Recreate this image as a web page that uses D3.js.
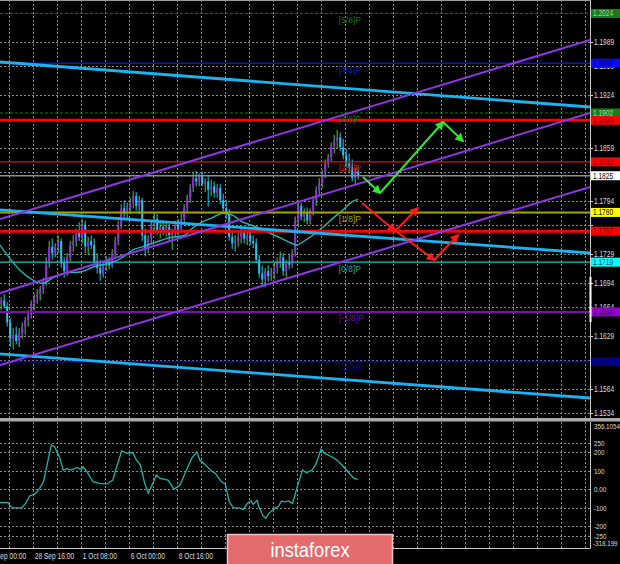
<!DOCTYPE html>
<html><head><meta charset="utf-8">
<script src="https://cdn.jsdelivr.net/npm/d3@7"></script>
<style>html,body{margin:0;padding:0;background:#000;}svg{display:block;font-family:"Liberation Sans",Arial,sans-serif;}</style>
</head><body>
<svg id="c" width="620" height="564"></svg>
<script>
// ---------------- DATA ----------------
const firstBar = 5; // H4 bar index (0 = 24 Sep 00:00)
const open  = [1.1668,1.1672,1.1665,1.1645,1.1625,1.1630,1.1622,1.1632,1.1640,1.1648,1.1655,1.1668,1.1675,1.1680,1.1686,1.1695,1.1720,1.1738,1.1730,1.1738,1.1745,1.1718,1.1708,1.1725,1.1740,1.1745,1.1755,1.1750,1.1765,1.1738,1.1745,1.1740,1.1720,1.1712,1.1705,1.1715,1.1720,1.1715,1.1730,1.1745,1.1765,1.1785,1.1778,1.1785,1.1792,1.1800,1.1788,1.1795,1.1752,1.1735,1.1748,1.1765,1.1772,1.1758,1.1762,1.1758,1.1762,1.1752,1.1755,1.1765,1.1760,1.1772,1.1786,1.1798,1.1810,1.1822,1.1818,1.1825,1.1815,1.1818,1.1808,1.1812,1.1804,1.1810,1.1795,1.1785,1.1778,1.1750,1.1742,1.1745,1.1750,1.1755,1.1748,1.1752,1.1745,1.1742,1.1722,1.1705,1.1698,1.1708,1.1702,1.1706,1.1712,1.1720,1.1725,1.1708,1.1718,1.1716,1.1730,1.1770,1.1788,1.1775,1.1780,1.1770,1.1782,1.1795,1.1808,1.1816,1.1828,1.1840,1.1848,1.1862,1.1868,1.1872,1.1860,1.1850,1.1840,1.1835,1.1822,1.1830];
const high  = [1.1676,1.1680,1.1670,1.1650,1.1638,1.1640,1.1638,1.1645,1.1652,1.1660,1.1672,1.1680,1.1686,1.1690,1.1700,1.1725,1.1745,1.1748,1.1742,1.1752,1.1748,1.1725,1.1730,1.1745,1.1752,1.1760,1.1768,1.1772,1.1770,1.1750,1.1752,1.1748,1.1730,1.1722,1.1720,1.1726,1.1725,1.1735,1.1750,1.1770,1.1790,1.1795,1.1792,1.1798,1.1806,1.1805,1.1800,1.1798,1.1760,1.1752,1.1770,1.1780,1.1778,1.1768,1.1770,1.1768,1.1766,1.1760,1.1770,1.1772,1.1778,1.1790,1.1802,1.1815,1.1830,1.1831,1.1828,1.1830,1.1822,1.1825,1.1820,1.1818,1.1815,1.1815,1.1803,1.1795,1.1784,1.1758,1.1752,1.1758,1.1762,1.1760,1.1758,1.1756,1.1752,1.1748,1.1728,1.1715,1.1712,1.1715,1.1712,1.1718,1.1725,1.1732,1.1730,1.1722,1.1728,1.1735,1.1775,1.1795,1.1792,1.1785,1.1786,1.1785,1.1800,1.1812,1.1822,1.1832,1.1845,1.1852,1.1866,1.1875,1.1881,1.1878,1.1870,1.1858,1.1852,1.1845,1.1835,1.1836];
const low   = [1.1660,1.1662,1.1640,1.1615,1.1612,1.1618,1.1615,1.1625,1.1630,1.1640,1.1650,1.1660,1.1668,1.1672,1.1680,1.1690,1.1712,1.1722,1.1725,1.1730,1.1712,1.1700,1.1702,1.1720,1.1732,1.1738,1.1745,1.1742,1.1730,1.1728,1.1735,1.1715,1.1705,1.1696,1.1700,1.1708,1.1710,1.1712,1.1725,1.1740,1.1760,1.1770,1.1772,1.1778,1.1785,1.1782,1.1778,1.1745,1.1726,1.1730,1.1742,1.1755,1.1752,1.1748,1.1752,1.1750,1.1745,1.1734,1.1750,1.1752,1.1756,1.1768,1.1780,1.1792,1.1805,1.1812,1.1812,1.1812,1.1805,1.1787,1.1800,1.1798,1.1798,1.1790,1.1780,1.1772,1.1745,1.1735,1.1732,1.1738,1.1742,1.1742,1.1740,1.1740,1.1736,1.1718,1.1700,1.1690,1.1688,1.1695,1.1696,1.1698,1.1705,1.1712,1.1702,1.1700,1.1710,1.1712,1.1726,1.1762,1.1770,1.1768,1.1765,1.1765,1.1776,1.1788,1.1800,1.1810,1.1822,1.1835,1.1842,1.1852,1.1858,1.1855,1.1845,1.1835,1.1828,1.1818,1.1814,1.1820];
const close = [1.1672,1.1665,1.1645,1.1625,1.1630,1.1622,1.1632,1.1640,1.1648,1.1655,1.1668,1.1675,1.1680,1.1686,1.1695,1.1720,1.1738,1.1730,1.1738,1.1745,1.1718,1.1708,1.1725,1.1740,1.1745,1.1755,1.1750,1.1765,1.1738,1.1745,1.1740,1.1720,1.1712,1.1705,1.1715,1.1720,1.1715,1.1730,1.1745,1.1765,1.1785,1.1778,1.1785,1.1792,1.1800,1.1788,1.1795,1.1752,1.1735,1.1748,1.1765,1.1772,1.1758,1.1762,1.1758,1.1762,1.1752,1.1755,1.1765,1.1760,1.1772,1.1786,1.1798,1.1810,1.1822,1.1818,1.1825,1.1815,1.1818,1.1808,1.1812,1.1804,1.1810,1.1795,1.1785,1.1778,1.1750,1.1742,1.1745,1.1750,1.1755,1.1748,1.1752,1.1745,1.1742,1.1722,1.1705,1.1698,1.1708,1.1702,1.1706,1.1712,1.1720,1.1725,1.1708,1.1718,1.1716,1.1730,1.1770,1.1788,1.1775,1.1780,1.1770,1.1782,1.1795,1.1808,1.1816,1.1828,1.1840,1.1848,1.1862,1.1868,1.1872,1.1860,1.1850,1.1840,1.1835,1.1822,1.1830,1.1825];

const maBar = [4.6,11.3,15.6,18.9,22.3,26.9,31.3,36.3,41.3,45.6,48.9,52.3,56.9,61.3,66.3,67.9,71.3,75.6,78.9,81.9,85.6,90.3,93.6,97.9,101.3,103.6,105.6,108.9,112.3,115.6,118.9,121.9,123.9];
const maVal = [1.1740,1.1709,1.1697,1.1693,1.1700,1.1706,1.1707,1.1714,1.1718,1.1725,1.1734,1.1738,1.1744,1.1749,1.1752,1.1758,1.1767,1.1774,1.1779,1.1777,1.1768,1.1762,1.1756,1.1749,1.1743,1.1740,1.1744,1.1752,1.1762,1.1773,1.1783,1.1793,1.1796];

const cciBar = [4.6,7.2,8.6,11.8,13.2,14.5,16.5,17.8,19.1,20.4,21.7,22.8,24.4,25.7,27,28.3,30.3,31.6,32.3,33.6,35.6,37.6,40.2,42.2,43.5,45.2,46.8,48.8,50.1,51.4,52.7,54,55.3,56.7,58,60.6,62.6,64.6,66.5,68.5,70.2,71.2,73.1,75.1,76.4,78.4,79.7,81,82.4,84.3,85.7,87,88.3,89,90.3,90.9,92.3,93.2,94.2,96.2,97.5,98.4,99.5,100.8,102.1,103.7,105.4,106.7,108.7,110,111.6,112.9,114.7,116.6,118.6,120.6,122.6,123.9];
const cciVal = [-72,-72,-100,-100,-75,-36,-22,5,41,140,240,230,176,104,112,104,118,108,122,95,41,32,29,50,122,209,195,199,158,131,41,-22,23,77,59,50,0,23,95,167,203,158,131,99,86,41,29,-67,-100,-100,-109,-77,-63,-82,-59,-95,-144,-157,-130,-103,-90,-63,-68,-63,-77,13,104,90,104,140,216,194,180,162,131,95,59,54];

const priceTicks = [1.1989,1.1959,1.1924,1.1894,1.1859,1.1829,1.1794,1.1764,1.1729,1.1694,1.1664,1.1629,1.1599,1.1564,1.1534];
const priceTickShown = [1.1989,1.1959,1.1924,1.1859,1.1794,1.1729,1.1694,1.1664,1.1629,1.1564,1.1534];
const timeTickBars = [0,16,32,48,64,80];
const timeTickLabels = ["24 Sep 00:00","28 Sep 16:00","1 Oct 08:00","6 Oct 00:00","8 Oct 16:00","13 Oct 08:00"];
const cciTicks = [250,200,100,0,-100,-200,-250];
const cciTickLabels = ["250","200","100","0.00","-100","-200","-250"];
const cciMaxLabel = "356.1054", cciMinLabel = "-318.199";
const cciMax = 356.1054, cciMin = -318.199;

// Murray levels and other horizontal levels
const levelVals   = [1.2024,1.1963,1.1902,1.1893,1.1842,1.1825,1.1780,1.1757,1.1719,1.1658,1.1597];
const levelBoxes  = ["1.2024","1.1963","1.1902","1.1893","1.1842","1.1825","1.1780","1.1757","1.1719","1.1658","1.1597"];
const levelNames  = ["[5/8]P","[4/8]P","[3/8]P","","[2/8]P","","[1/8]P","","[0/8]P","[-1/8]P","[-2/8]P"];

// channel lines: two anchor bars, prices at each
const chanBars = [4.6, 201.3];
const purpleChan = [[1.17719,1.19915],[1.16812,1.19019],[1.15929,1.18112]];
const cyanChan   = [[1.19645,1.19093],[1.17830,1.17302],[1.16064,1.15524]];

// forecast arrows (bar, price)
const greenBars = [125.6,131.3,152.3,158.9];
const greenVals = [1.18234,1.18038,1.18909,1.18676];
const redSegs = [
  [[125.3,1.17916],[136.3,1.17572]],
  [[136.3,1.17572],[143.9,1.17854]],
  [[137.0,1.17560],[149.3,1.17217]],
  [[149.3,1.17217],[157.3,1.17523]]
];

// ---------------- SCALES ----------------
const svg = d3.select("#c");
const PW = 590, MAIN_B = 418, SUB_T = 422, SUB_B = 548;
const x = d3.scaleLinear().domain([0, 8]).range([-15.3, 8.7]);   // bar index -> px (bar left)
const y = d3.scaleLinear().domain([1.1534, 1.1989]).range([413, 42]);
const yc = d3.scaleLinear().domain([-100, 100]).range([507.8, 470.8]);
const GRID = "#8a8a8a", AXT = "#dcdcdc";

function txt(g, px, py, s, size, fill, sx, anchor) {
  return g.append("text").attr("transform", `translate(${px},${py}) scale(${sx||0.8},1)`)
    .attr("font-size", size).attr("fill", fill).attr("text-anchor", anchor || "start").text(s);
}

const defs = svg.append("defs");
defs.append("clipPath").attr("id","cm").append("rect").attr("x",0).attr("y",1).attr("width",PW).attr("height",MAIN_B-1);
defs.append("clipPath").attr("id","cs").append("rect").attr("x",0).attr("y",SUB_T).attr("width",PW).attr("height",SUB_B-SUB_T);
function marker(id, col) {
  defs.append("marker").attr("id", id).attr("viewBox","0 0 10 10").attr("refX",8).attr("refY",5)
    .attr("markerWidth",4.5).attr("markerHeight",4.5).attr("orient","auto").attr("markerUnits","strokeWidth")
    .append("path").attr("d","M0,0 L10,5 L0,10 z").attr("fill", col);
}
marker("ag", "#2ee82e"); marker("ar", "#ff1a1a");

svg.append("rect").attr("width",620).attr("height",564).attr("fill","#000");

// ---------------- MAIN PANEL ----------------
const main = svg.append("g").attr("clip-path","url(#cm)");
const gridBars = d3.range(8, 201, 8);
main.selectAll(".vg").data(gridBars).join("line")
  .attr("x1", d => Math.round(x(d)) + 0.5).attr("x2", d => Math.round(x(d)) + 0.5)
  .attr("y1", 0).attr("y2", MAIN_B).attr("stroke", GRID).attr("stroke-dasharray","2,2").attr("stroke-width",1);
main.selectAll(".hg").data(priceTicks).join("line")
  .attr("x1", 0).attr("x2", PW).attr("y1", d => Math.round(y(d)) + 0.5).attr("y2", d => Math.round(y(d)) + 0.5)
  .attr("stroke", GRID).attr("stroke-dasharray","2,2");

// candles
const bars = open.map((o, k) => ({i: firstBar + k, o, h: high[k], l: low[k], c: close[k]}));
const cg = main.append("g");
bars.forEach(b => {
  const cx = x(b.i) + 1.5;
  const up = b.c >= b.o;
  cg.append("line").attr("x1", cx).attr("x2", cx).attr("y1", y(b.h)).attr("y2", y(b.l))
    .attr("stroke", up ? "#3fd23f" : "#22c4ee").attr("stroke-width", 1);
  const top = y(Math.max(b.o, b.c)), bot = y(Math.min(b.o, b.c));
  cg.append("rect").attr("x", cx - 1).attr("width", 2).attr("y", top).attr("height", Math.max(1, bot - top))
    .attr("fill", up ? "#9b27e8" : "#22c4ee");
});

// moving average
main.append("path").datum(maBar.map((b, k) => [b, maVal[k]]))
  .attr("d", d3.line().x(d => x(d[0]) + 1.5).y(d => y(d[1])).curve(d3.curveMonotoneX))
  .attr("fill","none").attr("stroke","#22b8b0").attr("stroke-width",1.4);

// horizontal levels
const levelStyle = [
  {c:"#0d7a0d", w:1, d:"3,2"}, {c:"#1010d8", w:1.6}, {c:"#0d7a0d", w:1, d:"3,2"}, {c:"#ff0000", w:3},
  {c:"#e01010", w:1.2}, {c:"#8c8c8c", w:1.6}, {c:"#a3a300", w:2}, {c:"#ff0000", w:3},
  {c:"#10c8c8", w:1.3}, {c:"#7a12a8", w:2}, {c:"#0a0a8a", w:1.6}
];
levelVals.forEach((v, k) => {
  const s = levelStyle[k];
  main.append("line").attr("x1",0).attr("x2",PW).attr("y1", y(v)).attr("y2", y(v))
    .attr("stroke", s.c).attr("stroke-width", s.w).attr("stroke-dasharray", s.d || null);
});
const nameColor = ["#1f6e1f","#1a1ad0","#1f6e1f","","#d01515","","#a3a300","","#17a8a8","#6d11a0","#10107a"];
levelVals.forEach((v, k) => {
  if (levelNames[k]) txt(main, x(118) + 0, y(v) + 9.5, levelNames[k], 9.5, nameColor[k], 0.9);
});

// channels
cyanChan.forEach(p => {
  main.append("line").attr("x1", x(chanBars[0]) + 1.5).attr("y1", y(p[0])).attr("x2", x(chanBars[1]) + 1.5).attr("y2", y(p[1]))
    .attr("stroke","#19b4ef").attr("stroke-width",2.8);
});
purpleChan.forEach(p => {
  main.append("line").attr("x1", x(chanBars[0]) + 1.5).attr("y1", y(p[0])).attr("x2", x(chanBars[1]) + 1.5).attr("y2", y(p[1]))
    .attr("stroke","#8f35e8").attr("stroke-width",2);
});

// forecast arrows
for (let k = 0; k < greenBars.length - 1; k++) {
  main.append("line").attr("x1", x(greenBars[k]) + 1.5).attr("y1", y(greenVals[k]))
    .attr("x2", x(greenBars[k+1]) + 1.5).attr("y2", y(greenVals[k+1]))
    .attr("stroke","#2ee82e").attr("stroke-width",2).attr("marker-end","url(#ag)");
}
redSegs.forEach(s => {
  main.append("line").attr("x1", x(s[0][0]) + 1.5).attr("y1", y(s[0][1]))
    .attr("x2", x(s[1][0]) + 1.5).attr("y2", y(s[1][1]))
    .attr("stroke","#ff1a1a").attr("stroke-width",2).attr("marker-end","url(#ar)");
});

// frame of main panel
svg.append("line").attr("x1",0).attr("x2",PW).attr("y1",0.5).attr("y2",0.5).attr("stroke","#9a9a9a");
svg.append("rect").attr("x",0).attr("y",MAIN_B).attr("width",620).attr("height",3.5).attr("fill","#a9a9a9");

// price axis
const ax = svg.append("g");
priceTicks.forEach(v => {
  ax.append("line").attr("x1",PW).attr("x2",PW+3).attr("y1",Math.round(y(v))+0.5).attr("y2",Math.round(y(v))+0.5).attr("stroke","#cfcfcf");
});
priceTickShown.forEach(v => txt(ax, 594, y(v) + 3, v.toFixed(4), 8.3, AXT, 0.79));
const boxFill = ["#187c18","#0a0aff","#187c18","#ff0000","#ff0000","#ffffff","#ffff00","#ff0000","#00ffff","#9400d3","#00008f"];
const boxText = ["#9ad89a","#00007a","#a8e0a8","#8a0000","#8a0000","#000000","#000000","#8a0000","#005555","#3e0060","#000050"];
levelVals.forEach((v, k) => {
  ax.append("rect").attr("x", PW + 1).attr("y", y(v) - 4.5).attr("width", 29).attr("height", 9).attr("fill", boxFill[k]);
  txt(ax, 593, y(v) + 3, levelBoxes[k], 8.3, boxText[k], 0.79);
});

// ---------------- CCI PANEL ----------------
const sub = svg.append("g").attr("clip-path","url(#cs)");
sub.selectAll(".vg").data(gridBars).join("line")
  .attr("x1", d => Math.round(x(d)) + 0.5).attr("x2", d => Math.round(x(d)) + 0.5)
  .attr("y1", SUB_T).attr("y2", SUB_B).attr("stroke", GRID).attr("stroke-dasharray","2,2");
sub.selectAll(".hg").data(cciTicks).join("line")
  .attr("x1", 0).attr("x2", PW).attr("y1", d => Math.round(yc(d)) + 0.5).attr("y2", d => Math.round(yc(d)) + 0.5)
  .attr("stroke", GRID).attr("stroke-dasharray","2,2");
sub.append("path").datum(cciBar.map((b, k) => [b, cciVal[k]]))
  .attr("d", d3.line().x(d => x(d[0]) + 1.5).y(d => yc(d[1])))
  .attr("fill","none").attr("stroke","#1fb2a8").attr("stroke-width",1.3);

cciTicks.forEach((v, k) => txt(svg, 594, yc(v) + 3, cciTickLabels[k], 7.8, AXT, 0.8));
txt(svg, 594, yc(cciMax) + 6, cciMaxLabel, 7.8, AXT, 0.8);
txt(svg, 593, yc(cciMin) - 2, cciMinLabel, 7.8, AXT, 0.8);

// axes frame
svg.append("line").attr("x1",PW+0.5).attr("x2",PW+0.5).attr("y1",0).attr("y2",MAIN_B).attr("stroke","#c8c8c8");
svg.append("line").attr("x1",PW+0.5).attr("x2",PW+0.5).attr("y1",SUB_T).attr("y2",SUB_B+0.5).attr("stroke","#c8c8c8");
svg.append("line").attr("x1",0).attr("x2",PW+0.5).attr("y1",SUB_B+0.5).attr("y2",SUB_B+0.5).attr("stroke","#c8c8c8");
svg.append("rect").attr("x",PW-0.5).attr("y",277).attr("width",2).attr("height",45).attr("fill","#ffffff");

// time axis
timeTickBars.forEach((b, k) => txt(svg, x(b) + 2, 559, timeTickLabels[k], 8.3, AXT, 0.8));

// logo
svg.append("rect").attr("x",227.5).attr("y",534.5).attr("width",165).attr("height",32)
  .attr("fill","#e36b6e").attr("stroke","#f3c0c0").attr("stroke-width",1.5);
txt(svg, 310, 557, "instaforex", 21, "#ffffff", 0.87, "middle");
</script>
</body></html>
